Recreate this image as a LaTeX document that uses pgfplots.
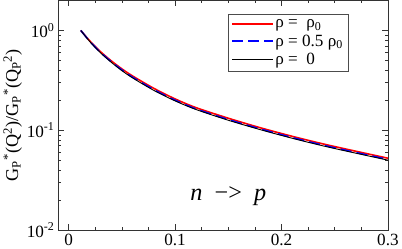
\documentclass[border=0pt]{standalone}
\usepackage{fontspec}
\setmainfont{Liberation Serif}
\usepackage{pgfplots}
\pgfplotsset{compat=1.18}
\begin{document}
\begin{tikzpicture}
\begin{axis}[
  scale only axis,
  width=326bp, height=227bp,
  xmin=-0.01, xmax=0.3,
  ymode=log, ymin=0.01, ymax=2,
  xtick={0,0.1,0.2,0.3},
  xticklabels={0,0.1,0.2,0.3},
  minor x tick num=3,
  ytick={0.01,0.1,1},
  yticklabels={10\textsuperscript{-2},10\textsuperscript{-1},10\textsuperscript{0}},
  tick align=inside,
  major tick length=6bp,
  minor tick length=3bp,
  axis line style={line width=0.8pt, black!80},
  every tick/.style={black!80, line width=0.6pt},
  tick label style={font=\fontsize{17}{18}\selectfont},
  ylabel={G\textsubscript{P}\textsuperscript{*}(Q\textsuperscript{2})/G\textsubscript{P}\textsuperscript{*}(Q\textsubscript{P}\textsuperscript{2})},
  ylabel style={font=\fontsize{18}{20}\selectfont, yshift=-2bp},
  legend style={at={(rel axis cs:0.515,0.94)}, anchor=north west,
    draw=black!70, line width=0.6pt, font=\fontsize{17}{21}\selectfont,
    row sep=1.5pt, inner sep=3pt},
  legend cell align=left,
  legend image code/.code={\draw[#1] (0bp,0bp) -- (40bp,0bp);},
]
\addplot[red, line width=1.6pt, smooth] coordinates {
(0.0114,1.0) (0.02,0.782) (0.03,0.611) (0.04,0.496) (0.05,0.412) (0.06,0.350)
(0.08,0.263) (0.10,0.206) (0.12,0.168) (0.15,0.132) (0.18,0.106) (0.21,0.0870)
(0.24,0.0726) (0.27,0.0616) (0.30,0.0525)};
\addlegendentry{ρ =\ \ ρ\textsubscript{0}}
\addplot[blue, line width=1.6pt, dash pattern=on 11bp off 5bp, smooth] coordinates {
(0.0114,1.0) (0.02,0.774) (0.03,0.602) (0.04,0.486) (0.05,0.402) (0.06,0.340)
(0.08,0.255) (0.10,0.200) (0.12,0.163) (0.15,0.128) (0.18,0.103) (0.21,0.0845)
(0.24,0.0705) (0.27,0.0598) (0.30,0.051)};
\addlegendentry{ρ = 0.5 ρ\textsubscript{0}}
\addplot[black, line width=0.9pt, smooth] coordinates {
(0.0114,1.0) (0.02,0.770) (0.03,0.596) (0.04,0.480) (0.05,0.396) (0.06,0.335)
(0.08,0.251) (0.10,0.197) (0.12,0.161) (0.15,0.126) (0.18,0.1015) (0.21,0.0832)
(0.24,0.0694) (0.27,0.0589) (0.30,0.0502)};
\addlegendentry{ρ =\ \ 0}
\node[font=\fontsize{24}{26}\selectfont] at (axis cs:0.15,0.022) {\textit{n}\ \ −>\ \ \textit{p}};
\end{axis}
\end{tikzpicture}
\end{document}
